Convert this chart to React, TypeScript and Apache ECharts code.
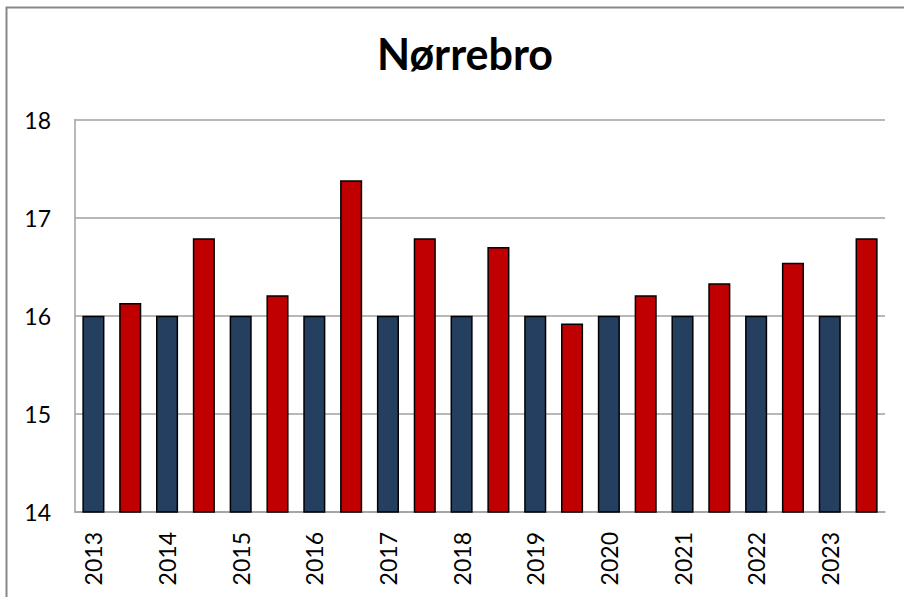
import React, { useEffect, useRef } from "react";
import * as echarts from "echarts";

const years = ["2013", "2014", "2015", "2016", "2017", "2018", "2019", "2020", "2021", "2022", "2023"];
const baseValues = [16, 16, 16, 16, 16, 16, 16, 16, 16, 16, 16];
const actualValues = [16.13, 16.79, 16.21, 17.38, 16.79, 16.7, 15.92, 16.21, 16.33, 16.54, 16.79];
const yTicks = [14, 15, 16, 17, 18];

const NAVY = "#243F60";
const RED = "#C00000";

export default function App() {
  const ref = useRef<HTMLDivElement>(null);
  useEffect(() => {
    document.body.style.margin = "0";
    if (!ref.current) return;
    const chart = echarts.init(ref.current, undefined, { renderer: "svg" });
    const categories: string[] = [];
    const data: any[] = [];
    years.forEach((y, i) => {
      categories.push(y);
      data.push({ value: baseValues[i], itemStyle: { color: NAVY } });
      categories.push(y + " ");
      data.push({ value: actualValues[i], itemStyle: { color: RED } });
    });
    chart.setOption({
      animation: false,
      backgroundColor: "#ffffff",
      title: {
        text: "Nørrebro",
        left: 460,
        top: 27,
        textAlign: "center",
        textStyle: { fontFamily: "Lato", fontWeight: "bold", fontSize: 43, color: "#000" },
      },
      graphic: [
        {
          type: "rect",
          shape: { x: 6.5, y: 7.5, width: 1000, height: 1000 },
          style: { fill: "none", stroke: "#888888", lineWidth: 2 },
          silent: true,
        },
      ],
      grid: { left: 75, top: 119.5, right: 19, bottom: 85, containLabel: false },
      xAxis: {
        type: "category",
        data: categories,
        axisLine: { show: true, lineStyle: { color: "#A0A0A0", width: 1.5 } },
        axisTick: { show: false },
        axisLabel: {
          interval: 1,
          rotate: 90,
          margin: 20,
          fontFamily: "Lato",
          fontSize: 23,
          color: "#000",
          formatter: (v: string) => v.trim(),
        },
      },
      yAxis: {
        type: "value",
        min: yTicks[0],
        max: yTicks[yTicks.length - 1],
        interval: 1,
        axisLine: { show: true, lineStyle: { color: "#A0A0A0", width: 1.5 } },
        axisTick: { show: false },
        splitLine: { show: true, lineStyle: { color: "#A0A0A0", width: 1.5 } },
        axisLabel: { fontFamily: "Lato", fontSize: 23, color: "#000", margin: 24 },
      },
      series: [
        {
          type: "bar",
          data,
          barWidth: "60%",
          itemStyle: { borderColor: "#000", borderWidth: 1.5 },
        },
      ],
    });
    return () => chart.dispose();
  }, []);
  return <div ref={ref} style={{ width: 904, height: 597 }} />;
}
